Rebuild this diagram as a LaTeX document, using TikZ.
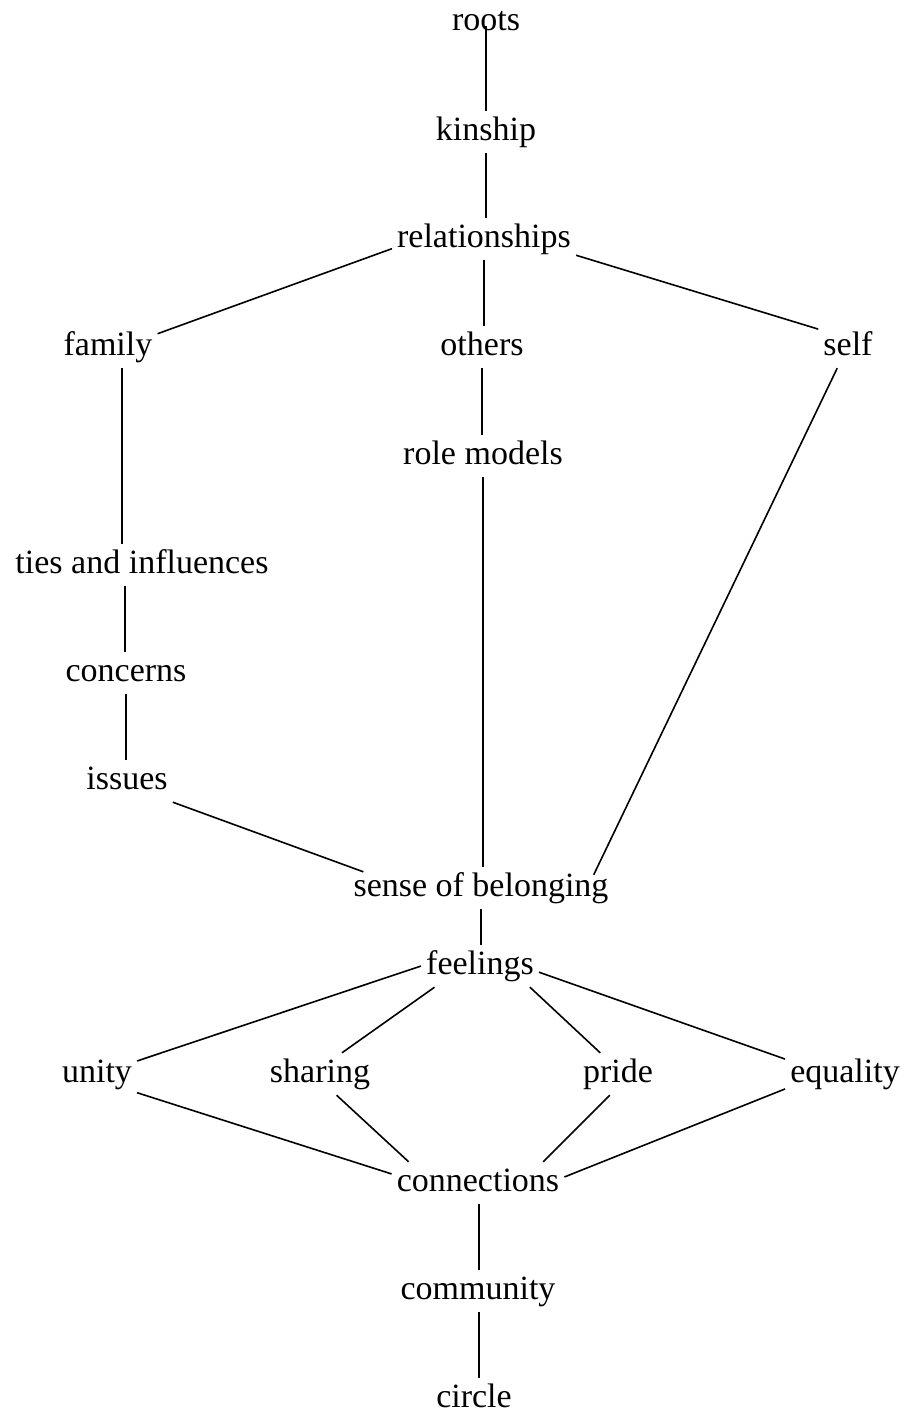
\documentclass[tikz,border=0pt]{standalone}
\usepackage{fontspec}
\setmainfont{Liberation Serif}
\usetikzlibrary{calc}
\begin{document}
\begin{tikzpicture}[x=1pt,y=-1pt,
  term/.style={anchor=base, inner sep=5pt, text height=24pt, text depth=8pt, font=\fontsize{34}{40}\selectfont},
  link/.style={draw, line width=1.6pt}]
\useasboundingbox (0,0) rectangle (906,1416);
\node[term] (roots) at (486,30) {roots};
\node[term] (kinship) at (486,140) {kinship};
\node[term] (rel) at (484,247) {relationships};
\node[term] (family) at (108,355) {family};
\node[term] (others) at (482,355) {others};
\node[term] (self) at (848,355) {self};
\node[term] (role) at (483,464) {role models};
\node[term] (ties) at (142,573) {ties and influences};
\node[term] (concerns) at (126,681) {concerns};
\node[term] (issues) at (127,789) {issues};
\node[term] (sense) at (481,896) {sense of belonging};
\node[term] (feelings) at (480,974) {feelings};
\node[term] (unity) at (97,1082) {unity};
\node[term] (sharing) at (320,1082) {sharing};
\node[term] (pride) at (618,1082) {pride};
\node[term] (equality) at (845,1082) {equality};
\node[term] (conn) at (478,1191) {connections};
\node[term] (comm) at (478,1299) {community};
\node[term] (circle) at (474,1407) {circle};
\draw[link] ([yshift=4pt]roots.base) -- (kinship.north -| roots.base);
\draw[link] (kinship.south) -- (rel.north -| kinship.south);
\draw[link] (rel.186) -- (family.15);
\draw[link] (rel.south) -- (others.north -| rel.south);
\draw[link] (rel.350) -- (self.149);
\draw[link] (family.south -| 122,0) -- (ties.north -| 122,0);
\draw[link] (others.south) -- (role.north -| others.south);
\draw[link] (self.243) -- ($(sense.north east)+(-20,8)$);
\draw[link] (role.south) -- (sense.north -| role.south);
\draw[link] (ties.south -| 125,0) -- (concerns.north -| 125,0);
\draw[link] (concerns.south) -- (issues.north -| concerns.south);
\draw[link] (issues.south east) -- ($(sense.north west)+(15,5)$);
\draw[link] (sense.south) -- (feelings.north -| sense.south);
\draw[link] (feelings.west) -- (unity.18);
\draw[link] (feelings.205) -- (sharing.44);
\draw[link] (feelings.337) -- (pride.130);
\draw[link] (feelings.354) -- (equality.166);
\draw[link] (unity.335) -- (conn.174);
\draw[link] (sharing.308) -- (conn.163);
\draw[link] (pride.249) -- (conn.18);
\draw[link] (equality.194) -- (conn.4);
\draw[link] (conn.south -| 479,0) -- (comm.north -| 479,0);
\draw[link] (comm.south -| 479,0) -- (circle.north -| 479,0);
\end{tikzpicture}
\end{document}
